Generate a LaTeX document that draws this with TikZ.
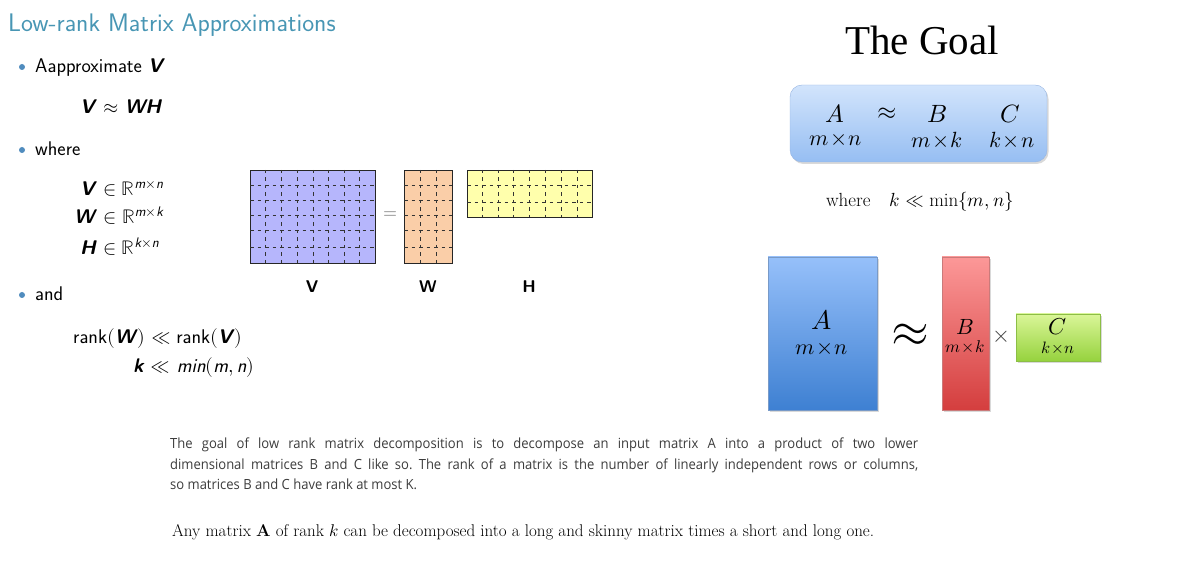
\documentclass[tikz,border=0pt]{standalone}
\usepackage{amsmath}
\usepackage{fontspec}
\usepackage{unicode-math}
\setmathfont{Latin Modern Math}
\usepackage{xcolor}
\usepackage{tikz}
\usetikzlibrary{shadows,calc}
\newfontfamily\goalfont{Liberation Serif}
\newfontfamily\blogfont[FakeStretch=0.93]{Open Sans}
\definecolor{TituloTeal}{RGB}{72,150,180}
\definecolor{BulletAzul}{RGB}{80,140,190}
\definecolor{MatV}{RGB}{182,182,252}
\definecolor{MatW}{RGB}{250,206,168}
\definecolor{MatH}{RGB}{255,255,172}
\definecolor{CajaBorde}{RGB}{150,180,225}
\definecolor{CajaArriba}{RGB}{210,228,252}
\definecolor{CajaAbajo}{RGB}{150,190,242}
\definecolor{AzulArriba}{RGB}{150,192,250}
\definecolor{AzulAbajo}{RGB}{62,128,210}
\definecolor{RojoArriba}{RGB}{252,152,152}
\definecolor{RojoAbajo}{RGB}{212,62,62}
\definecolor{VerdeArriba}{RGB}{218,246,152}
\definecolor{VerdeAbajo}{RGB}{150,210,62}
\definecolor{VerdeBorde}{RGB}{140,190,70}
\definecolor{TextoGris}{RGB}{60,60,60}
\newcommand{\bvec}[1]{\textsf{\bfseries\itshape #1}}
\newcommand{\svar}[1]{\textsf{\itshape #1}}
\newcommand{\dimx}[2]{#1\!\times\!#2}

\begin{document}
\begin{tikzpicture}[x=1pt,y=-1pt,every node/.style={inner sep=0pt},
  cuerpo/.style={anchor=base west,font=\sffamily\fontsize{19.8}{23}\selectfont},
  rejilla/.style={line width=0.6pt,black!80,dash pattern=on 3.5pt off 4pt},
  marco/.style={line width=0.8pt,draw=black!85},
  etiqueta/.style={font=\sffamily\bfseries\fontsize{17}{20}\selectfont},
  sombra/.style={drop shadow={opacity=0.3,shadow xshift=1.5pt,shadow yshift=-2pt}}]
  \useasboundingbox (0,0) rectangle (1202,585);
  % left slide
  \node[anchor=base west,text=TituloTeal,font=\sffamily\fontsize{25.4}{30}\selectfont] (titulo) at (8,32) {Low-rank Matrix Approximations};
  \foreach \y in {67,150,295} \fill[BulletAzul] (22,\y) circle (3pt);
  \node[cuerpo] (aprox) at (35,73) {Aapproximate \bvec{V}};
  \node[cuerpo] (vwh) at (80,114) {\bvec{V} $\approx$ \bvec{WH}};
  \node[cuerpo] (donde) at (35,156) {where};
  \node[cuerpo] (enV) at (80,196) {\bvec{V} $\in\mathbb{R}^{\svar{m}\times\svar{n}}$};
  \node[cuerpo] (enW) at (74,224) {\bvec{W} $\in\mathbb{R}^{\svar{m}\times\svar{k}}$};
  \node[cuerpo] (enH) at (80,255) {\bvec{H} $\in\mathbb{R}^{\svar{k}\times\svar{n}}$};
  \node[cuerpo] (y) at (35,301) {and};
  \node[cuerpo] (rango) at (73,344) {rank$($\bvec{W}$)\ll{}$rank$($\bvec{V}$)$};
  \node[cuerpo] (kmin) at (133,372) {\bvec{k} $\ll$ \svar{min}$($\svar{m}$,$\,\svar{n}$)$};
  % V = W H
  \draw[marco,fill=MatV] (250,170) rectangle (375,263);
  \foreach \y in {185,200,215,230,247} \draw[rejilla] (250,\y) -- (375,\y);
  \foreach \x in {265,281,297,313,328,344,359} \draw[rejilla] (\x,170) -- (\x,263);
  \draw[marco,fill=MatW] (404,170) rectangle (452,263);
  \foreach \y in {185,200,215,230,247} \draw[rejilla] (404,\y) -- (452,\y);
  \foreach \x in {420,436} \draw[rejilla] (\x,170) -- (\x,263);
  \draw[marco,fill=MatH] (467,170) rectangle (592,217);
  \foreach \y in {185,202} \draw[rejilla] (467,\y) -- (592,\y);
  \foreach \x in {482,498,513,529,545,561,577} \draw[rejilla] (\x,170) -- (\x,217);
  \node[text=black!55,font=\fontsize{18}{20}\selectfont] (igual) at (390,215) {$=$};
  \node[etiqueta] (labV) at (312,287) {V};
  \node[etiqueta] (labW) at (428,287) {W};
  \node[etiqueta] (labH) at (529,287) {H};
  % the goal
  \node[font=\goalfont\fontsize{41}{48}\selectfont] (meta) at (922,40) {The Goal};
  \draw[sombra,rounded corners=12pt,draw=CajaBorde,top color=CajaArriba,bottom color=CajaAbajo] (790,85) rectangle (1047,162);
  \node[font=\fontsize{25}{28}\selectfont] (gA) at (835,114) {$A$};
  \node[font=\fontsize{22}{24}\selectfont] (gAs) at (836,140) {$\dimx{m}{n}$};
  \node[font=\fontsize{25}{28}\selectfont] (gap) at (887,114) {$\approx$};
  \node[font=\fontsize{25}{28}\selectfont] (gB) at (937,114) {$B$};
  \node[font=\fontsize{22}{24}\selectfont] (gBs) at (937,140) {$\dimx{m}{k}$};
  \node[font=\fontsize{25}{28}\selectfont] (gC) at (1010,114) {$C$};
  \node[font=\fontsize{22}{24}\selectfont] (gCs) at (1012,140) {$\dimx{k}{n}$};
  \node[font=\fontsize{19}{22}\selectfont] (cond) at (920,202) {where\quad$k\ll\min\{m,n\}$};
  % A ~ B x C
  \draw[sombra,draw=AzulArriba!80!black,top color=AzulArriba,bottom color=AzulAbajo] (768,257) rectangle (877,410);
  \node[font=\fontsize{27}{30}\selectfont] (bA) at (822,320) {$A$};
  \node[font=\fontsize{22}{26}\selectfont] (bAs) at (822,349) {$\dimx{m}{n}$};
  \node[font=\fontsize{49}{56}\selectfont] (bap) at (910,335) {$\approx$};
  \draw[sombra,draw=RojoArriba!80!black,top color=RojoArriba,bottom color=RojoAbajo] (942,257) rectangle (989,410);
  \node[font=\fontsize{22}{24}\selectfont] (bB) at (965,327) {$B$};
  \node[font=\fontsize{17}{20}\selectfont] (bBs) at (965,347) {$\dimx{m}{k}$};
  \node[font=\fontsize{23}{26}\selectfont,text=black!75] (bx) at (1001,337) {$\times$};
  \draw[sombra,draw=VerdeBorde,top color=VerdeArriba,bottom color=VerdeAbajo] (1016,314) rectangle (1100,361);
  \node[font=\fontsize{23}{26}\selectfont] (bC) at (1058,327) {$C$};
  \node[font=\fontsize{16.5}{18}\selectfont] (bCs) at (1058,348) {$\dimx{k}{n}$};
  % captions
  \node[anchor=north west,text width=748pt,align=justify,text=TextoGris,font=\blogfont\fontsize{14}{20.5}\selectfont\frenchspacing] (parrafo) at (170,438)
    {The goal of low rank matrix decomposition is to decompose an input matrix A into a product of two lower\linebreak
     dimensional matrices B and C like so. The rank of a matrix is the number of linearly independent rows or columns,\linebreak
     so matrices B and C have rank at most K.};
  \node[anchor=base west,font=\fontsize{17}{20}\selectfont] (final) at (172,536) {Any matrix $\mathbf{A}$ of rank $k$ can be decomposed into a long and skinny matrix times a short and long one.};
\end{tikzpicture}
\end{document}
